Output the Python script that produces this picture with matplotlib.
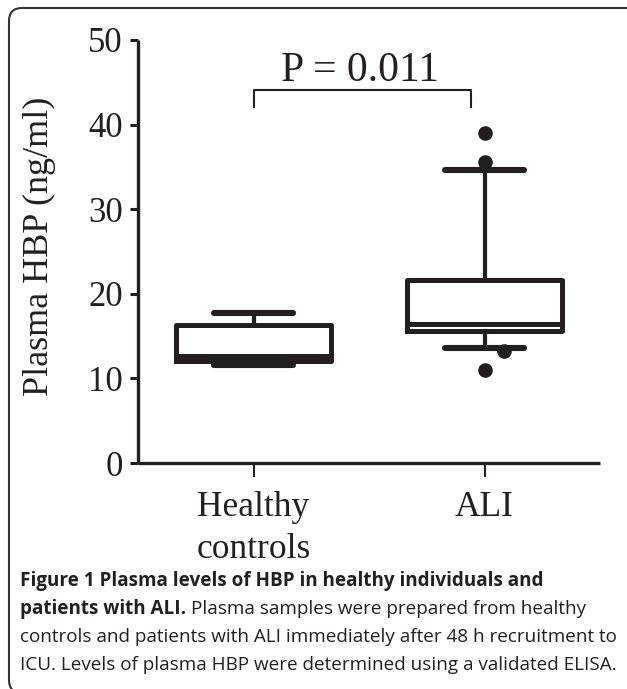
import matplotlib
matplotlib.use('Agg')
import matplotlib.pyplot as plt
from matplotlib.patches import FancyBboxPatch

# values (ng/ml)
groups = ['Healthy\ncontrols', 'ALI']
whisker_low = [11.6, 13.6]
quartile_1 = [12.0, 15.6]
medians = [12.6, 16.4]
quartile_3 = [16.3, 21.6]
whisker_high = [17.7, 34.6]
outliers = [[], [39.0, 35.6, 13.2, 11.0]]
# small sideways shift of single dots, as drawn in the source
outlier_shift = [[], [0.0, 0.0, 0.085, 0.0]]

p_text = 'P = 0.011'
y_ticks = [0, 10, 20, 30, 40, 50]

caption_bold_1 = 'Figure 1 Plasma levels of HBP in healthy individuals and'
caption_bold_2 = 'patients with ALI.'
caption_rest_2 = 'Plasma samples were prepared from healthy'
caption_3 = 'controls and patients with ALI immediately after 48 h recruitment to'
caption_4 = 'ICU. Levels of plasma HBP were determined using a validated ELISA.'

ink = '#231f20'
serif = 'Liberation Serif'
sans = 'Open Sans'

fig = plt.figure(figsize=(6.27, 6.89), dpi=100)
fig.patch.set_facecolor('white')

# rounded frame around the panel, partly running off the page
frame = FancyBboxPatch((0.09, -0.04), 6.45, 6.85,
                       boxstyle='round,pad=0,rounding_size=0.13',
                       transform=fig.dpi_scale_trans, fill=False,
                       edgecolor='#333333', linewidth=1.5, clip_on=False)
fig.patches.append(frame)

ax = fig.add_axes([138 / 627, 1 - 463 / 689, 462 / 627, 423 / 689])

stats = []
for i in range(len(groups)):
    stats.append({'whislo': whisker_low[i], 'q1': quartile_1[i], 'med': medians[i],
                  'q3': quartile_3[i], 'whishi': whisker_high[i], 'fliers': []})

pos = list(range(1, len(groups) + 1))
ax.bxp(stats, positions=pos, widths=0.675, showfliers=False, manage_ticks=False,
       boxprops=dict(color=ink, linewidth=3.6),
       medianprops=dict(color=ink, linewidth=3.6, solid_capstyle='butt'),
       whiskerprops=dict(color=ink, linewidth=3.0),
       capprops=dict(color=ink, linewidth=4.4, solid_capstyle='round'),
       capwidths=0.345)

for i, vals in enumerate(outliers):
    if not vals:
        continue
    xs = [pos[i] + s for s in outlier_shift[i]]
    ax.plot(xs, vals, linestyle='none', marker='o', markersize=9.5,
            markerfacecolor=ink, markeredgecolor=ink, zorder=5)

# significance bracket
ax.plot([1, 1, 1.94, 1.94], [42.0, 44.1, 44.1, 42.0], color=ink, linewidth=1.5,
        solid_capstyle='butt', clip_on=False)
ax.text(1.46, 45.1, p_text, ha='center', va='baseline', fontsize=30,
        family=serif, color=ink)

ax.set_xlim(0.5, 2.5)
ax.set_ylim(0, 50)
ax.set_yticks(y_ticks)
ax.set_xticks(pos)
ax.set_xticklabels(groups, fontsize=25.5, family=serif, color=ink, linespacing=1.35)
ax.set_yticklabels([str(t) for t in y_ticks], fontsize=25, family=serif, color=ink)
ax.tick_params(axis='y', length=6, width=2.2, color=ink, pad=5)
ax.tick_params(axis='x', length=10, width=1.5, color=ink, pad=10)

for side in ['top', 'right']:
    ax.spines[side].set_visible(False)
for side in ['left', 'bottom']:
    ax.spines[side].set_linewidth(2.4)
    ax.spines[side].set_color(ink)
    ax.spines[side].set_capstyle('butt')

ax.set_ylabel('Plasma HBP (ng/ml)', fontsize=26, family=serif, color=ink)
ax.yaxis.set_label_coords(-0.178, 0.513)

# caption
cap_size = 13.6
x0 = 20 / 627
fig.text(x0, 1 - 586 / 689, caption_bold_1, fontsize=cap_size, family=sans,
         fontweight='bold', color=ink, va='baseline')
b2 = fig.text(x0, 1 - 614 / 689, caption_bold_2, fontsize=cap_size, family=sans,
              fontweight='bold', color=ink, va='baseline')
fig.canvas.draw()
ext = b2.get_window_extent(renderer=fig.canvas.get_renderer())
fig.text((ext.x1 + 5) / (6.27 * 100), 1 - 614 / 689, caption_rest_2, fontsize=cap_size,
         family=sans, color=ink, va='baseline')
fig.text(x0, 1 - 642 / 689, caption_3, fontsize=cap_size, family=sans, color=ink,
         va='baseline')
fig.text(x0, 1 - 670 / 689, caption_4, fontsize=cap_size, family=sans, color=ink,
         va='baseline')

fig.savefig('out.png', dpi=100)
